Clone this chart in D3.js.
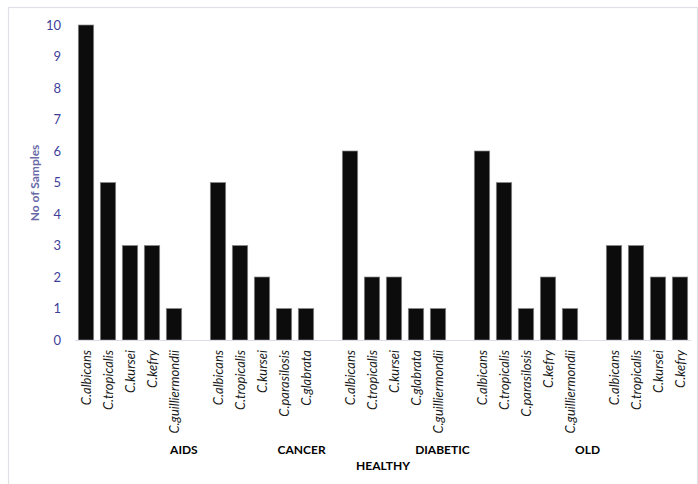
<!DOCTYPE html>
<html><head><meta charset="utf-8">
<script src="https://cdn.jsdelivr.net/npm/d3@7"></script>
<style>body{margin:0;background:#fff}svg{display:block}</style>
</head><body>
<script>
// ---- data ----
const groups = ["AIDS", "CANCER", "DIABETIC", "HEALTHY", "OLD"];
const aidsSpecies = ["C.albicans", "C.tropicalis", "C.kursei", "C.kefry", "C.guilliermondii"];
const aidsValues = [10, 5, 3, 3, 1];
const cancerSpecies = ["C.albicans", "C.tropicalis", "C.kursei", "C.parasilosis", "C.glabrata"];
const cancerValues = [5, 3, 2, 1, 1];
const diabeticSpecies = ["C.albicans", "C.tropicalis", "C.kursei", "C.glabrata", "C.guilliermondii"];
const diabeticValues = [6, 2, 2, 1, 1];
const healthySpecies = ["C.albicans", "C.tropicalis", "C.parasilosis", "C.kefry", "C.guilliermondii"];
const healthyValues = [6, 5, 1, 2, 1];
const oldSpecies = ["C.albicans", "C.tropicalis", "C.kursei", "C.kefry"];
const oldValues = [3, 3, 2, 2];
const yTicks = [0,1,2,3,4,5,6,7,8,9,10];
const yTitle = "No of Samples";

const speciesByGroup = [aidsSpecies, cancerSpecies, diabeticSpecies, healthySpecies, oldSpecies];
const valuesByGroup = [aidsValues, cancerValues, diabeticValues, healthyValues, oldValues];

// build slot list (one empty slot between groups)
const rows = [];
let slot = 0;
speciesByGroup.forEach((sp, gi) => {
  sp.forEach((s, i) => { rows.push({key: "s" + slot, group: groups[gi], species: s, value: valuesByGroup[gi][i]}); slot++; });
  if (gi < groups.length - 1) { rows.push({key: "s" + slot, gap: true}); slot++; }
});

const W = 698, H = 484;
const svg = d3.select("body").append("svg").attr("width", W).attr("height", H);

// outer chart border (extends past right/bottom as in reference)
svg.append("rect").attr("x", 8.5).attr("y", 7.5).attr("width", 689).attr("height", 500)
  .attr("fill", "none").attr("stroke", "#dfe1e8").attr("stroke-width", 1.2);

const x = d3.scaleBand().domain(rows.map(d => d.key)).range([75, 691]).paddingInner(0.3).paddingOuter(0.15);
const y = d3.scaleLinear().domain([0, 10]).range([340, 25]);

// y axis
const yAxis = d3.axisLeft(y).tickValues(yTicks).tickSize(0).tickPadding(0).tickFormat(d3.format("d"));
const ya = svg.append("g").attr("transform", "translate(61,0)").call(yAxis);
ya.select(".domain").remove();
ya.selectAll("text").attr("font-family", "Lato, 'Open Sans', sans-serif").attr("font-size", 13)
  .attr("fill", "#3f3f9a");

svg.append("text").attr("transform", "translate(39,183) rotate(-90)")
  .attr("text-anchor", "middle").attr("font-family", "Lato, 'Open Sans', sans-serif")
  .attr("font-weight", "bold").attr("font-size", 12).attr("fill", "#6a6aa8").text(yTitle);

// bars
const bars = rows.filter(d => !d.gap);
svg.append("g").selectAll("rect").data(bars).join("rect")
  .attr("x", d => x(d.key)).attr("width", x.bandwidth())
  .attr("y", d => y(d.value)).attr("height", d => y(0) - y(d.value))
  .attr("fill", "#0c0c0c").attr("stroke", "#8a8a8a").attr("stroke-width", 0.7);

// x axis line
svg.append("line").attr("x1", 75).attr("x2", 691).attr("y1", 340.5).attr("y2", 340.5)
  .attr("stroke", "#dcdde6").attr("stroke-width", 1.2);

// category labels
svg.append("g").selectAll("text").data(bars).join("text")
  .attr("transform", d => `translate(${x(d.key) + x.bandwidth() / 2 + 4.5},350) rotate(-90)`)
  .attr("text-anchor", "end")
  .attr("font-family", "Lato, 'Open Sans', sans-serif").attr("font-style", "italic")
  .attr("font-size", 13).attr("letter-spacing", 0)
  .attr("fill", "#1a1a1a").text(d => d.species);

// group labels (positions in slot units, as laid out in the reference)
const groupLabelSlot = [4.95, 10.3, 16.7, 14.0, 23.3];
const groupLabelRow = [0, 0, 0, 1, 0];
const step = x.step();
svg.append("g").selectAll("text").data(groups).join("text")
  .attr("x", (d, i) => 75 + groupLabelSlot[i] * step)
  .attr("y", (d, i) => groupLabelRow[i] ? 470 : 454)
  .attr("text-anchor", "middle").attr("font-family", "Lato, 'Open Sans', sans-serif")
  .attr("font-weight", "bold").attr("font-size", 12).attr("fill", "#000").text(d => d);
</script>
</body></html>
